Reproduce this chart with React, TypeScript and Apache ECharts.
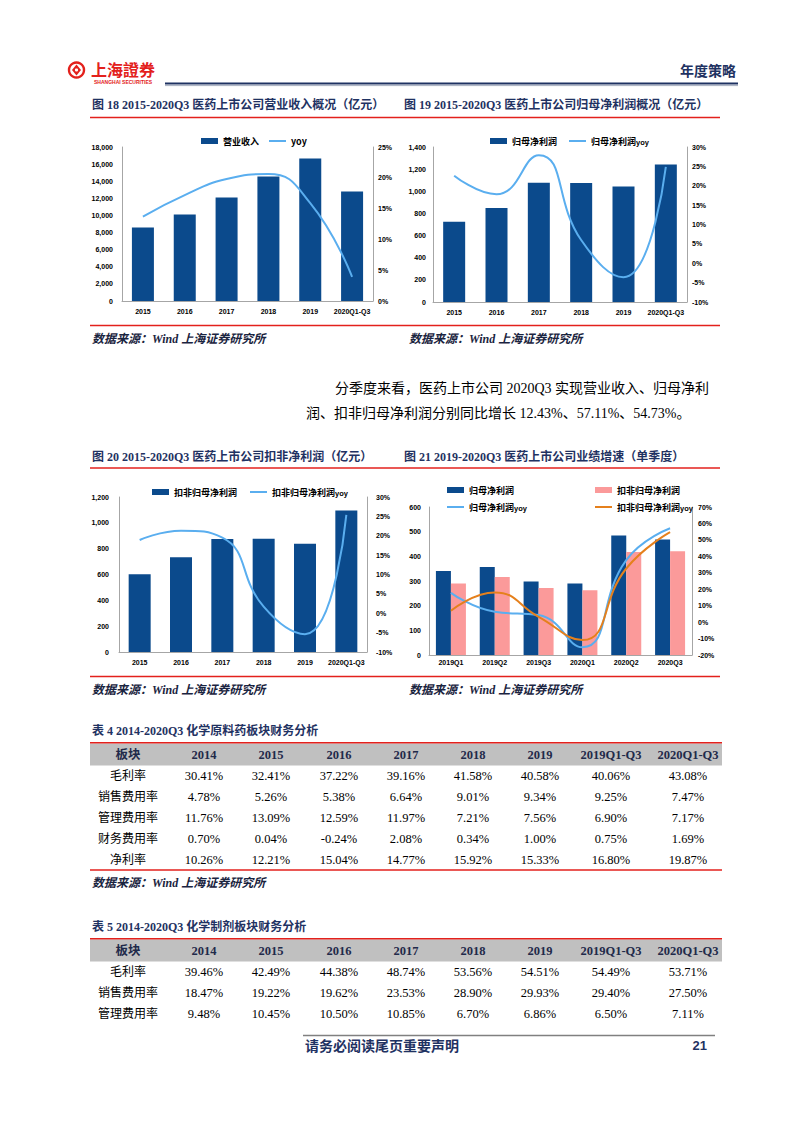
import React, { useEffect, useRef } from "react";
import * as echarts from "echarts";

const SERIF = "'Liberation Serif', 'Noto Sans CJK SC', serif";
const CJK = "'Noto Sans CJK SC', sans-serif";
const CJK_TC = "'Noto Sans CJK TC', 'Noto Sans CJK SC', sans-serif";
const SANS = "'Liberation Sans', Arial, sans-serif";

const NAVY = "#1F3262";
const RED = "#E3211C";
const BAR_BLUE = "#0B4A8C";
const LINE_BLUE = "#5AAEEF";
const PINK = "#FB9A9A";
const ORANGE = "#E5801C";
const AXIS_GRAY = "#A6A6A6";

// ---- 图18 营业收入 ----
const years = ["2015", "2016", "2017", "2018", "2019", "2020Q1-Q3"];
const revenue = [8600, 10100, 12100, 14550, 16650, 12800];
const revenueYoy = [13.7, 17.2, 19.8, 20.6, 15.9, 3.9];
// ---- 图19 归母净利润 ----
const netProfit = [724, 850, 1077, 1074, 1044, 1243];
const netProfitYoy = [22.6, 17.8, 27.9, 6.0, -3.6, 24.9];
// ---- 图20 扣非归母净利润 ----
const deductedProfit = [601, 734, 874, 876, 839, 1096];
const deductedProfitYoy = [18.9, 21.3, 19.5, 1.7, -5.4, 25.4];
// ---- 图21 单季度 ----
const quarters = ["2019Q1", "2019Q2", "2019Q3", "2020Q1", "2020Q2", "2020Q3"];
const qNetProfit = [341, 357, 298, 290, 484, 468];
const qDeducted = [290, 316, 272, 263, 418, 421];
const qNetProfitYoy = [17.8, 6.3, 4.3, -15.3, 37.7, 57.1];
const qDeductedYoy = [6.9, 18.0, 3.2, -10.9, 32.6, 54.7];

// ---- 表格 ----
const tableCols = ["板块", "2014", "2015", "2016", "2017", "2018", "2019", "2019Q1-Q3", "2020Q1-Q3"];
const table4Rows = ["毛利率", "销售费用率", "管理费用率", "财务费用率", "净利率"];
const table4Gross = ["30.41%", "32.41%", "37.22%", "39.16%", "41.58%", "40.58%", "40.06%", "43.08%"];
const table4Sales = ["4.78%", "5.26%", "5.38%", "6.64%", "9.01%", "9.34%", "9.25%", "7.47%"];
const table4Admin = ["11.76%", "13.09%", "12.59%", "11.97%", "7.21%", "7.56%", "6.90%", "7.17%"];
const table4Fin = ["0.70%", "0.04%", "-0.24%", "2.08%", "0.34%", "1.00%", "0.75%", "1.69%"];
const table4Net = ["10.26%", "12.21%", "15.04%", "14.77%", "15.92%", "15.33%", "16.80%", "19.87%"];
const table5Rows = ["毛利率", "销售费用率", "管理费用率"];
const table5Gross = ["39.46%", "42.49%", "44.38%", "48.74%", "53.56%", "54.51%", "54.49%", "53.71%"];
const table5Sales = ["18.47%", "19.22%", "19.62%", "23.53%", "28.90%", "29.93%", "29.40%", "27.50%"];
const table5Admin = ["9.48%", "10.45%", "10.50%", "10.85%", "6.70%", "6.86%", "6.50%", "7.11%"];

const colX = [128, 204, 271, 339, 406, 473, 540, 611, 688];

function txt(text: string, x: number, y: number, o: any = {}) {
  return {
    type: "text",
    x,
    y,
    silent: true,
    style: {
      text,
      fill: o.fill || "#000",
      fontSize: o.fontSize || 12,
      fontWeight: o.fontWeight || "normal",
      fontStyle: o.fontStyle || "normal",
      fontFamily: o.fontFamily || SERIF,
      align: o.align || "left",
      verticalAlign: "middle",
      textAlign: o.align || "left",
      textVerticalAlign: "middle",
    },
  };
}
function hline(x1: number, x2: number, y: number, color: string, w: number) {
  return { type: "line", silent: true, shape: { x1, y1: y, x2, y2: y }, style: { stroke: color, lineWidth: w } };
}

function tableGraphics(title: string, ty: number, rows: string[], values: string[][], bottom: boolean) {
  const els: any[] = [];
  els.push(txt(title, 92, ty, { fontWeight: "bold", fill: NAVY, fontSize: 12 }));
  els.push({ type: "rect", silent: true, shape: { x: 90, y: ty + 12.5, width: 632, height: 22 }, style: { fill: "#C0C0C0" } });
  els.push(hline(90, 722, ty + 11.8, RED, 1.6));
  tableCols.forEach((c, i) => {
    els.push(txt(c, colX[i], ty + 24, { align: "center", fontWeight: "bold", fill: "#1F2A4A", fontSize: 12.5 }));
  });
  rows.forEach((r, ri) => {
    const y = ty + 45 + ri * 21;
    els.push(txt(r, colX[0], y, { align: "center", fontSize: 12 }));
    values[ri].forEach((v, ci) => {
      els.push(txt(v, colX[ci + 1], y, { align: "center", fontSize: 12.5 }));
    });
  });
  if (bottom) els.push(hline(90, 722, ty + 139, RED, 1.6));
  return els;
}

const source = "数据来源：Wind 上海证券研究所";
const srcStyle = { fontWeight: "bold", fontStyle: "italic", fill: "#1A2440", fontSize: 12 };

function leftAxis(gridIndex: number, max: number, interval: number, margin: number) {
  return {
    type: "value",
    gridIndex,
    min: 0,
    max,
    interval,
    position: "left",
    axisLine: { show: true, onZero: false, lineStyle: { color: AXIS_GRAY, width: 1 } },
    axisTick: { show: false },
    splitLine: { show: false },
    axisLabel: {
      margin,
      fontSize: 7,
      fontWeight: "bold",
      fontFamily: SANS,
      color: "#000",
      formatter: (v: number) => v.toLocaleString("en-US"),
    },
  };
}
function rightAxis(gridIndex: number, min: number, max: number, interval: number, margin: number) {
  return {
    type: "value",
    gridIndex,
    min,
    max,
    interval,
    position: "right",
    axisLine: { show: true, onZero: false, lineStyle: { color: AXIS_GRAY, width: 1 } },
    axisTick: { show: false },
    splitLine: { show: false },
    axisLabel: { margin, fontSize: 7, fontWeight: "bold", fontFamily: SANS, color: "#000", formatter: "{value}%" },
  };
}
function catAxis(gridIndex: number, data: string[], margin: number) {
  return {
    type: "category",
    gridIndex,
    data,
    axisLine: { show: true, onZero: false, lineStyle: { color: AXIS_GRAY, width: 1 } },
    axisTick: { show: false },
    axisLabel: { interval: 0, margin, fontSize: 7, fontWeight: "bold", fontFamily: SANS, color: "#000" },
  };
}
const legendText = {
  fontSize: 9,
  fontWeight: "bold",
  fontFamily: CJK,
  color: "#000",
  lineHeight: 12,
  rich: {
    c: { fontSize: 9, fontWeight: "bold", fontFamily: CJK, color: "#000", lineHeight: 12 },
    y: { fontSize: 7.5, fontWeight: "bold", fontFamily: SANS, color: "#000", lineHeight: 12, padding: [3, 0, 0, 0] },
  },
};
const legendFmt = (n: string) => {
  const s = n.split("|")[1];
  if (s === "yoy") return "{c|yoy}";
  if (s.endsWith("yoy")) return `{c|${s.slice(0, -3)}}{y|yoy}`;
  return `{c|${s}}`;
};
// thin horizontal line icon (invisible corner points keep the full 17x6 box)
const LINE_ICON = "path://M0,0L0.01,0L0,0.01Z M0,2.1L17,2.1L17,3.9L0,3.9Z M17,6L16.99,6L17,5.99Z";

export default function App() {
  const ref = useRef<HTMLDivElement>(null);
  useEffect(() => {
    if (!ref.current) return;
    const chart = echarts.init(ref.current, null, { renderer: "svg" });

    const graphic: any[] = [];
    // header
    graphic.push({ type: "circle", silent: true, shape: { cx: 76.5, cy: 70, r: 7.5 }, style: { fill: "none", stroke: RED, lineWidth: 2.4 } });
    graphic.push({ type: "polygon", silent: true, shape: { points: [[76.5, 64.5], [81, 70], [76.5, 75.5], [72, 70]] }, style: { fill: RED } });
    graphic.push({ type: "circle", silent: true, shape: { cx: 76.5, cy: 70, r: 1.6 }, style: { fill: "#fff" } });
    graphic.push(txt("上海證券", 91, 68.5, { fontSize: 16, fontWeight: "bold", fill: RED, fontFamily: CJK_TC }));
    graphic.push(txt("SHANGHAI SECURITIES", 94, 82, { fontSize: 5, fontWeight: "bold", fill: RED, fontFamily: SANS }));
    graphic.push(txt("年度策略", 736, 70, { fontSize: 14, fontWeight: "bold", fill: NAVY, fontFamily: CJK, align: "right" }));
    graphic.push(hline(165, 738, 83.5, NAVY, 2.2));
    graphic.push(hline(165, 738, 85.6, "#A8B0C0", 1));

    // chart titles & rules
    graphic.push(txt("图 18 2015-2020Q3 医药上市公司营业收入概况（亿元）", 92, 105, { fontWeight: "bold", fill: NAVY, fontSize: 12 }));
    graphic.push(txt("图 19 2015-2020Q3 医药上市公司归母净利润概况（亿元）", 404, 105, { fontWeight: "bold", fill: NAVY, fontSize: 12 }));
    graphic.push(hline(90, 720, 117.5, RED, 1.6));
    graphic.push(hline(90, 720, 325.5, RED, 1.6));
    graphic.push(txt(source, 92, 339, srcStyle));
    graphic.push(txt(source, 409, 339, srcStyle));

    graphic.push(txt("分季度来看，医药上市公司 2020Q3 实现营业收入、归母净利", 335, 388, { fontSize: 14 }));
    graphic.push(txt("润、扣非归母净利润分别同比增长 12.43%、57.11%、54.73%。", 306, 413, { fontSize: 14 }));

    graphic.push(txt("图 20 2015-2020Q3 医药上市公司扣非净利润（亿元）", 92, 457, { fontWeight: "bold", fill: NAVY, fontSize: 12 }));
    graphic.push(txt("图 21 2019-2020Q3 医药上市公司业绩增速（单季度）", 404, 457, { fontWeight: "bold", fill: NAVY, fontSize: 12 }));
    graphic.push(hline(90, 720, 468, RED, 1.6));
    graphic.push(hline(90, 720, 676.5, RED, 1.6));
    graphic.push(txt(source, 92, 690, srcStyle));
    graphic.push(txt(source, 409, 690, srcStyle));

    // tables
    graphic.push(
      ...tableGraphics("表 4 2014-2020Q3 化学原料药板块财务分析", 731, table4Rows,
        [table4Gross, table4Sales, table4Admin, table4Fin, table4Net], true)
    );
    graphic.push(txt(source, 92, 883, srcStyle));
    graphic.push(
      ...tableGraphics("表 5 2014-2020Q3 化学制剂板块财务分析", 927, table5Rows,
        [table5Gross, table5Sales, table5Admin], false)
    );

    // footer
    graphic.push(hline(303, 715, 1035.5, "#808080", 1.6));
    graphic.push(txt("请务必阅读尾页重要声明", 305, 1045, { fontSize: 14, fontWeight: "bold", fill: NAVY, fontFamily: CJK }));
    graphic.push(txt("21", 707, 1045, { fontSize: 13, fontWeight: "bold", fill: NAVY, fontFamily: SANS, align: "right" }));

    const lineS = (name: string, x: number, y: number, data: number[], color: string) => ({
      name,
      type: "line",
      xAxisIndex: x,
      yAxisIndex: y,
      data,
      smooth: true,
      symbol: "none",
      lineStyle: { color, width: 2 },
      itemStyle: { color },
      z: 3,
    });
    const barS = (name: string, x: number, y: number, data: number[], color: string, w: number, extra: any = {}) => ({
      name,
      type: "bar",
      xAxisIndex: x,
      yAxisIndex: y,
      data,
      barWidth: w,
      itemStyle: { color },
      ...extra,
    });
    const legendBase = {
      itemWidth: 17,
      itemHeight: 6,
      formatter: legendFmt,
      textStyle: legendText,
      selectedMode: false,
    };

    const option: any = {
      animation: false,
      backgroundColor: "#fff",
      grid: [
        { left: 122, top: 147, width: 251, height: 154 },
        { left: 433, top: 147, width: 254, height: 155 },
        { left: 119, top: 497, width: 248, height: 155 },
        { left: 429, top: 507, width: 263, height: 148 },
      ],
      xAxis: [catAxis(0, years, 7), catAxis(1, years, 7), catAxis(2, years, 7), catAxis(3, quarters, 4)],
      yAxis: [
        leftAxis(0, 18000, 2000, 9),
        rightAxis(0, 0, 25, 5, 5),
        leftAxis(1, 1400, 200, 7),
        rightAxis(1, -10, 30, 5, 5),
        leftAxis(2, 1200, 200, 10),
        rightAxis(2, -10, 30, 5, 9),
        leftAxis(3, 600, 100, 8),
        rightAxis(3, -20, 70, 10, 6),
      ],
      legend: [
        {
          ...legendBase,
          data: [{ name: "a|营业收入", icon: "rect" }, { name: "a|yoy", icon: LINE_ICON }],
          left: 196, top: 130, itemGap: 10,
        },
        {
          ...legendBase,
          data: [{ name: "b|归母净利润", icon: "rect" }, { name: "b|归母净利润yoy", icon: LINE_ICON }],
          left: 485, top: 130, itemGap: 12,
        },
        {
          ...legendBase,
          data: [{ name: "c|扣非归母净利润", icon: "rect" }, { name: "c|扣非归母净利润yoy", icon: LINE_ICON }],
          left: 147, top: 481, itemGap: 13,
        },
        {
          ...legendBase,
          orient: "vertical",
          data: [{ name: "d|归母净利润", icon: "rect" }, { name: "d|归母净利润yoy", icon: LINE_ICON }],
          left: 442, top: 479, itemGap: 5,
        },
        {
          ...legendBase,
          orient: "vertical",
          data: [{ name: "d|扣非归母净利润", icon: "rect" }, { name: "d|扣非归母净利润yoy", icon: LINE_ICON }],
          left: 590, top: 479, itemGap: 5,
        },
      ],
      series: [
        barS("a|营业收入", 0, 0, revenue, BAR_BLUE, 22),
        lineS("a|yoy", 0, 1, revenueYoy, LINE_BLUE),
        barS("b|归母净利润", 1, 2, netProfit, BAR_BLUE, 22),
        lineS("b|归母净利润yoy", 1, 3, netProfitYoy, LINE_BLUE),
        barS("c|扣非归母净利润", 2, 4, deductedProfit, BAR_BLUE, 22),
        lineS("c|扣非归母净利润yoy", 2, 5, deductedProfitYoy, LINE_BLUE),
        barS("d|归母净利润", 3, 6, qNetProfit, BAR_BLUE, 15, { barGap: "0%" }),
        barS("d|扣非归母净利润", 3, 6, qDeducted, PINK, 15, { barGap: "0%" }),
        lineS("d|归母净利润yoy", 3, 7, qNetProfitYoy, LINE_BLUE),
        lineS("d|扣非归母净利润yoy", 3, 7, qDeductedYoy, ORANGE),
      ],
      graphic: { elements: graphic },
    };
    chart.setOption(option);
    return () => chart.dispose();
  }, []);
  return (
    <div
      ref={ref}
      style={{ position: "absolute", left: 0, top: 0, width: 800, height: 1132, background: "#fff" }}
    />
  );
}
